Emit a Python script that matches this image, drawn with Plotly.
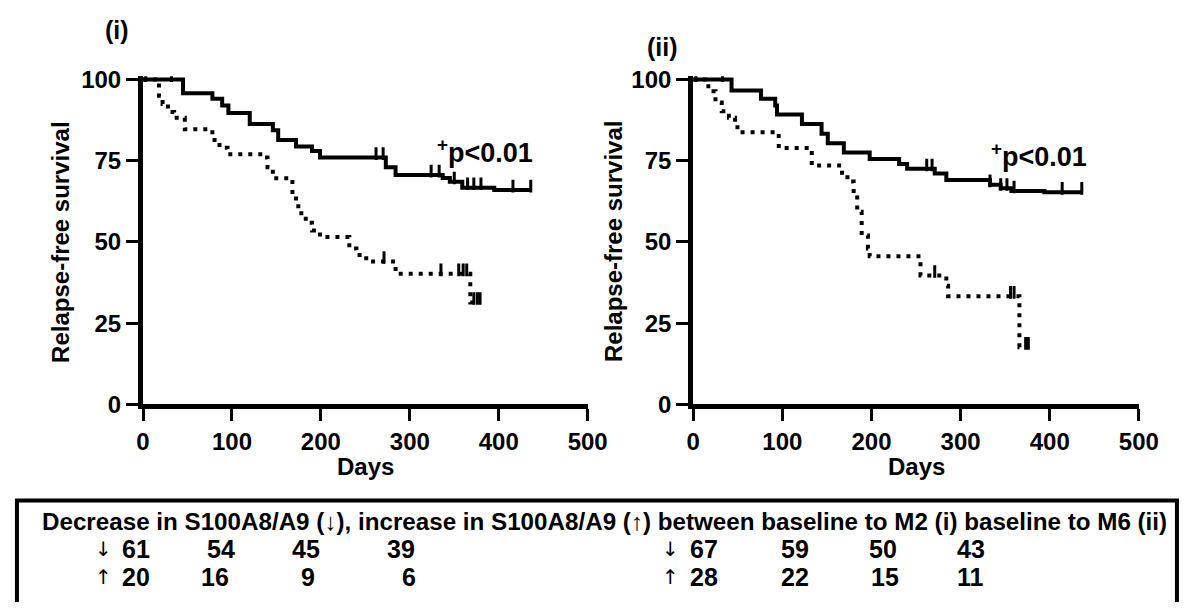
import numpy as np
import plotly.graph_objects as go

# ---------------- data ----------------
# Panel (i): baseline to M2
days_dec_i = [0, 45, 78, 89, 96, 120, 146, 152, 172, 190, 199, 273, 284, 337, 345, 359, 395, 436]
surv_dec_i = [100, 95.8, 94.1, 92.0, 89.7, 86.3, 84.4, 81.4, 79.4, 78.0, 76.0, 73.0, 70.6, 69.7, 68.5, 66.7, 66.0, 66.0]
cens_dec_i = [3, 32, 262, 270, 324, 333, 350, 365, 372, 380, 416, 436]

days_inc_i = [0, 18, 22, 28, 35, 47, 78, 86, 95, 135, 140, 146, 168, 172, 178, 183, 190, 199, 232, 240, 251, 284, 368, 379]
surv_inc_i = [100, 95.0, 92.5, 90.0, 88.2, 84.7, 81.4, 79.0, 77.0, 76.0, 73.0, 69.6, 64.2, 61.0, 58.0, 55.9, 53.5, 51.5, 48.0, 46.0, 44.0, 40.2, 31.4, 31.4]
cens_inc_i = [271, 335, 355, 360, 364, 372, 376, 379]

# Panel (ii): baseline to M6
days_dec_ii = [0, 43, 76, 92, 94, 122, 144, 151, 169, 198, 231, 240, 271, 284, 333, 345, 357, 394, 436]
surv_dec_ii = [100, 96.6, 94.1, 92.0, 89.2, 86.3, 83.3, 80.4, 77.5, 75.5, 74.0, 72.5, 71.1, 69.1, 67.6, 66.5, 65.7, 65.3, 65.3]
cens_dec_ii = [3, 33, 262, 268, 333, 345, 352, 360, 414, 436]

days_inc_ii = [0, 17, 25, 32, 40, 47, 52, 96, 133, 167, 173, 180, 184, 189, 196, 198, 255, 284, 286, 366, 376]
surv_inc_ii = [100, 96.4, 92.9, 90.2, 88.2, 85.3, 83.8, 78.9, 73.5, 70.6, 68.6, 64.7, 59.3, 52.0, 48.0, 45.6, 39.7, 36.5, 33.3, 17.6, 17.6]
cens_inc_ii = [271, 356, 360, 373, 376]

x_ticks = [0, 100, 200, 300, 400, 500]
y_ticks = [0, 25, 50, 75, 100]

panel_labels = ["(i)", "(ii)"]
p_text = "<sup>+</sup>p&lt;0.01"
x_title = "Days"
y_title = "Relapse-free survival"

table_header = "Decrease in S100A8/A9 (↓), increase in S100A8/A9 (↑) between baseline to M2 (i) baseline to M6 (ii)"
risk_dec_i = ["61", "54", "45", "39"]
risk_inc_i = ["20", "16", "9", "6"]
risk_dec_ii = ["67", "59", "50", "43"]
risk_inc_ii = ["28", "22", "15", "11"]

# ---------------- layout helpers ----------------
# The page body keeps the browser's default 8px margin, so the figure is made
# 16px smaller than the window and target pixel positions are shifted by 8px.
PAGE_W, PAGE_H, BODY = 1203, 610, 8
W, H = PAGE_W - 2 * BODY, PAGE_H - 2 * BODY
FONT = "Liberation Sans, Arial, sans-serif"


def px(x):
    return (x - BODY) / W


def py(y):
    return 1 - (y - BODY) / H


def step_at(days, surv, t):
    idx = np.searchsorted(np.asarray(days), t, side="right") - 1
    return float(np.asarray(surv)[idx])


fig = go.Figure()
panels = [
    ("x", "y", days_dec_i, surv_dec_i, cens_dec_i, days_inc_i, surv_inc_i, cens_inc_i),
    ("x2", "y2", days_dec_ii, surv_dec_ii, cens_dec_ii, days_inc_ii, surv_inc_ii, cens_inc_ii),
]
cens_marker = dict(symbol="line-ns-open", size=9, color="black", line=dict(width=3, color="black"))
for xa, ya, dd, sd, cd, di, si, ci in panels:
    fig.add_trace(go.Scatter(x=dd, y=sd, mode="lines", line=dict(color="black", width=4, shape="hv"),
                             xaxis=xa, yaxis=ya, showlegend=False, hoverinfo="skip"))
    fig.add_trace(go.Scatter(x=di, y=si, mode="lines",
                             line=dict(color="black", width=4, shape="hv", dash="4px,6px"),
                             xaxis=xa, yaxis=ya, showlegend=False, hoverinfo="skip"))
    fig.add_trace(go.Scatter(x=cd, y=[step_at(dd, sd, t) + 1.2 for t in cd], mode="markers",
                             marker=cens_marker, xaxis=xa, yaxis=ya, showlegend=False, hoverinfo="skip"))
    fig.add_trace(go.Scatter(x=ci, y=[step_at(di, si, t) + 1.2 for t in ci], mode="markers",
                             marker=cens_marker, xaxis=xa, yaxis=ya, showlegend=False, hoverinfo="skip"))

# plot areas in pixels
y_top_100, y_bot_0 = 72, 410
unit = (y_bot_0 - y_top_100) / 100.0
y_max = 101
dom_y = [py(y_bot_0), py(y_bot_0 - unit * y_max)]

tickfont = dict(family=FONT, size=24, color="black", weight="bold")
xcommon = dict(showline=True, linecolor="black", linewidth=4.5, ticks="outside", ticklen=12, tickwidth=3,
               tickcolor="black", showgrid=False, zeroline=False, tickfont=tickfont, range=[0, 500],
               tickvals=x_ticks)
ycommon = dict(showline=True, linecolor="black", linewidth=5, ticks="outside", ticklen=12, tickwidth=3,
               tickcolor="black", showgrid=False, zeroline=False, tickfont=tickfont, range=[0, y_max],
               tickvals=y_ticks, domain=dom_y)
xdoms = [[px(139), px(594)], [px(702), px(1158)]]

fig.update_layout(
    width=W, height=H, margin=dict(l=0, r=0, t=0, b=0),
    paper_bgcolor="white", plot_bgcolor="white",
    xaxis=dict(domain=xdoms[0], anchor="y", **xcommon),
    yaxis=dict(anchor="x", **ycommon),
    xaxis2=dict(domain=xdoms[1], anchor="y2", **xcommon),
    yaxis2=dict(anchor="x2", **ycommon),
)

annots = []
bold = dict(family=FONT, color="black", weight="bold")


def add_text(text, x, y, size, xanchor="center", angle=0, font=None):
    annots.append(dict(text=text, x=px(x), y=py(y), xref="paper", yref="paper", showarrow=False,
                       xanchor=xanchor, yanchor="middle", textangle=angle,
                       font=font if font is not None else dict(size=size, **bold)))


# panel labels
for lab, (xc, yc) in zip(panel_labels, [(112, 20), (671, 38)]):
    add_text(lab, xc, yc, 25)
# axis titles
for xc in [(139 + 594) / 2, (702 + 1158) / 2]:
    add_text(x_title, xc, 475, 24)
for xc in [55, 621]:
    add_text(y_title, xc, 241, 24, angle=-90)
# p-values
for xc, yc in [(489, 146), (1056, 150)]:
    add_text(p_text, xc, yc, 27)
# table header
add_text(table_header, 34, 532, 24.2, xanchor="left")
# at-risk rows
arrow_x = [99, 679]
num_x_dec = [[132, 219, 306, 403], [713, 806, 896, 986]]
num_x_inc = [[132, 213, 308, 411], [713, 806, 898, 986]]
row_y = [560, 590]
arrow_font = dict(family="DejaVu Sans", size=20, color="black")
for p, (rd, ri) in enumerate([(risk_dec_i, risk_inc_i), (risk_dec_ii, risk_inc_ii)]):
    add_text("↓", arrow_x[p], row_y[0], 20, font=arrow_font)
    add_text("↑", arrow_x[p], row_y[1], 20, font=arrow_font)
    for v, xc in zip(rd, num_x_dec[p]):
        add_text(v, xc, row_y[0], 25)
    for v, xc in zip(ri, num_x_inc[p]):
        add_text(v, xc, row_y[1], 25)
fig.update_layout(annotations=annots)

# table box (bottom edge runs past the page bottom, as in the reference)
fig.add_shape(type="rect", xref="paper", yref="paper", x0=px(10), x1=px(1197), y0=py(640), y1=py(510),
              line=dict(color="black", width=4), fillcolor="rgba(0,0,0,0)", layer="above")

fig.write_html("out.html")
